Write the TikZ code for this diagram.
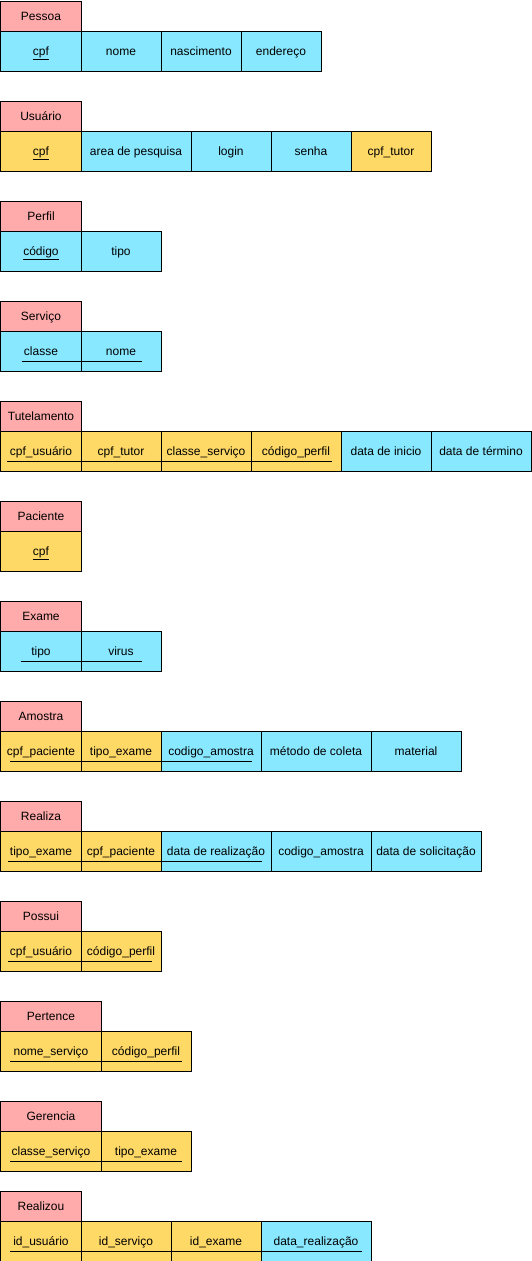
\documentclass[tikz,border=0pt]{standalone}
\usepackage{fontspec}
\setmainfont{Liberation Sans}
\definecolor{ttlc}{HTML}{FFABAB}
\definecolor{atrc}{HTML}{88E8FF}
\definecolor{keyc}{HTML}{FFD966}
\newcommand{\cellx}[6]{\node[#5, minimum width=#4pt] (#1) at (#2,#3) {#6};}
\newcommand{\keyline}[4]{\draw[ulin] ([xshift=#2pt,yshift=-30.7pt]#1.north west) -- ([xshift=-#4pt,yshift=-30.7pt]#3.north east);}
\begin{document}
\begin{tikzpicture}[x=1pt,y=-1pt,
  base/.style={draw=black, line width=1pt, anchor=north west, inner sep=0pt, text height=9pt, text depth=0pt, font=\fontsize{12}{14}\selectfont, text=black},
  ttl/.style={base, fill=ttlc, minimum height=30pt},
  att/.style={base, fill=atrc, minimum height=40pt},
  fk/.style={base, fill=keyc, minimum height=40pt},
  ulin/.style={line width=1pt, draw=black}]
\useasboundingbox (-0.5,-0.5) rectangle (530.5,1260.5);
% Pessoa
\cellx{pessoa}{0}{0}{80}{ttl}{Pessoa}
\cellx{pa}{0}{30}{80}{att}{\underline{cpf}}
\cellx{pb}{80}{30}{80}{att}{nome}
\cellx{pc}{160}{30}{80}{att}{nascimento}
\cellx{pd}{240}{30}{80}{att}{endereço}
% Usuario
\cellx{usuario}{0}{100}{80}{ttl}{Usuário}
\cellx{ua}{0}{130}{80}{fk}{\underline{cpf}}
\cellx{ub}{80}{130}{110}{att}{area de pesquisa}
\cellx{uc}{190}{130}{80}{att}{login}
\cellx{ud}{270}{130}{80}{att}{senha}
\cellx{ue}{350}{130}{80}{fk}{cpf\_tutor}
% Perfil
\cellx{perfil}{0}{200}{80}{ttl}{Perfil}
\cellx{pfa}{0}{230}{80}{att}{\underline{código}}
\cellx{pfb}{80}{230}{80}{att}{tipo}
% Servico
\cellx{servico}{0}{300}{80}{ttl}{Serviço}
\cellx{sa}{0}{330}{80}{att}{classe}
\cellx{sb}{80}{330}{80}{att}{nome}
% Tutelamento
\cellx{tutelamento}{0}{400}{80}{ttl}{Tutelamento}
\cellx{ta}{0}{430}{80}{fk}{cpf\_usuário}
\cellx{tb}{80}{430}{80}{fk}{cpf\_tutor}
\cellx{tc}{160}{430}{90}{fk}{classe\_serviço}
\cellx{td}{250}{430}{90}{fk}{código\_perfil}
\cellx{te}{340}{430}{90}{att}{data de inicio}
\cellx{tf}{430}{430}{100}{att}{data de término}
% Paciente
\cellx{paciente}{0}{500}{80}{ttl}{Paciente}
\cellx{pca}{0}{530}{80}{fk}{\underline{cpf}}
% Exame
\cellx{exame}{0}{600}{80}{ttl}{Exame}
\cellx{ea}{0}{630}{80}{att}{tipo}
\cellx{eb}{80}{630}{80}{att}{virus}
% Amostra
\cellx{amostra}{0}{700}{80}{ttl}{Amostra}
\cellx{aa}{0}{730}{80}{fk}{cpf\_paciente}
\cellx{ab}{80}{730}{80}{fk}{tipo\_exame}
\cellx{ac}{160}{730}{100}{att}{codigo\_amostra}
\cellx{ad}{260}{730}{110}{att}{método de coleta}
\cellx{ae}{370}{730}{90}{att}{material}
% Realiza
\cellx{realiza}{0}{800}{80}{ttl}{Realiza}
\cellx{ra}{0}{830}{80}{fk}{tipo\_exame}
\cellx{rb}{80}{830}{80}{fk}{cpf\_paciente}
\cellx{rc}{160}{830}{110}{att}{data de realização}
\cellx{rd}{270}{830}{100}{att}{codigo\_amostra}
\cellx{re}{370}{830}{110}{att}{data de solicitação}
% Possui
\cellx{possui}{0}{900}{80}{ttl}{Possui}
\cellx{psa}{0}{930}{80}{fk}{cpf\_usuário}
\cellx{psb}{80}{930}{80}{fk}{código\_perfil}
% Pertence
\cellx{pertence}{0}{1000}{100}{ttl}{Pertence}
\cellx{pta}{0}{1030}{100}{fk}{nome\_serviço}
\cellx{ptb}{100}{1030}{90}{fk}{código\_perfil}
% Gerencia
\cellx{gerencia}{0}{1100}{100}{ttl}{Gerencia}
\cellx{ga}{0}{1130}{100}{fk}{classe\_serviço}
\cellx{gb}{100}{1130}{90}{fk}{tipo\_exame}
% Realizou
\cellx{realizou}{0}{1190}{80}{ttl}{Realizou}
\cellx{rza}{0}{1220}{80}{fk}{id\_usuário}
\cellx{rzb}{80}{1220}{90}{fk}{id\_serviço}
\cellx{rzc}{170}{1220}{90}{fk}{id\_exame}
\cellx{rzd}{260}{1220}{110}{att}{data\_realização}
% key underlines
\keyline{sa}{21}{sb}{20}
\keyline{ta}{7}{td}{10}
\keyline{ea}{20}{eb}{20}
\keyline{aa}{10}{ac}{10}
\keyline{ra}{8}{rc}{10}
\keyline{psa}{8}{psb}{10}
\keyline{pta}{10}{ptb}{10}
\keyline{ga}{10}{gb}{10}
\keyline{rza}{10}{rzd}{10}
\end{tikzpicture}
\end{document}
